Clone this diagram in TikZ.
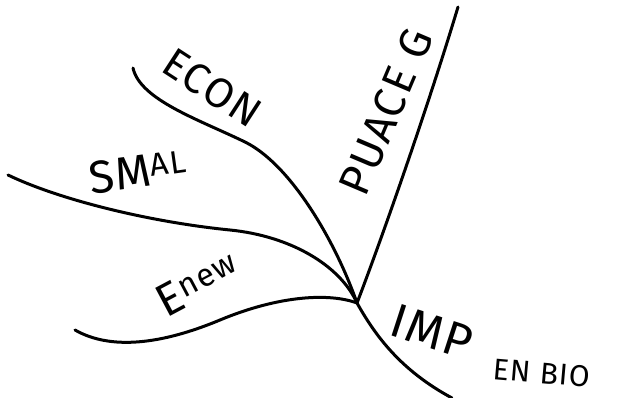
\documentclass[tikz,border=0pt]{standalone}
\usepackage{fontspec}
\setmainfont{Fira Sans}[LetterSpace=4]
\usetikzlibrary{positioning, calc}

\tikzset{
    branch/.style={line width=3pt, line cap=round, line join=round},
    hand/.style={inner sep=0pt, font=\fontsize{42}{42}\selectfont},
}

\begin{document}
\begin{tikzpicture}[x=1pt, y=-1pt]
    \useasboundingbox (0,0) rectangle (629,398);
    \coordinate (hub) at (357,303);
    \coordinate (econend) at (133,68);
    \coordinate (smend) at (8,175);
    \coordinate (enewend) at (75,330);
    \coordinate (pubend) at (458,7);
    \coordinate (impend) at (452,398);
    \node[hand, rotate=-33] (econ) at (212,88) {ECON};
    \node[hand, rotate=8, font=\fontsize{46}{46}\selectfont] (smal) at (138,172) {SM\textsuperscript{AL}};
    \node[hand, rotate=28, font=\fontsize{46}{46}\selectfont] (enew) at (198,284) {E\textsuperscript{new}};
    \node[hand, rotate=67, font=\fontsize{44}{44}\selectfont] (pub) at (386,112) {PUACE G};
    \node[hand, rotate=-18, font=\fontsize{48}{48}\selectfont] (imp) at (432,332) {IMP};
    \node[hand, rotate=-5, font=\fontsize{30}{30}\selectfont] (enbio) at (542,373) {EN BIO};
    \draw[branch] (econend) .. controls (140,100) and (200,120) .. (245,142) .. controls (290,164) and (335,240) .. (hub);
    \draw[branch] (smend) .. controls (60,200) and (150,222) .. (230,230) .. controls (290,236) and (340,265) .. (hub);
    \draw[branch] (enewend) .. controls (110,350) and (160,345) .. (220,320) .. controls (280,295) and (330,293) .. (hub);
    \draw[branch] (hub) .. controls (385,230) and (430,100) .. (pubend);
    \draw[branch] (hub) .. controls (375,335) and (400,370) .. (impend);
\end{tikzpicture}
\end{document}
